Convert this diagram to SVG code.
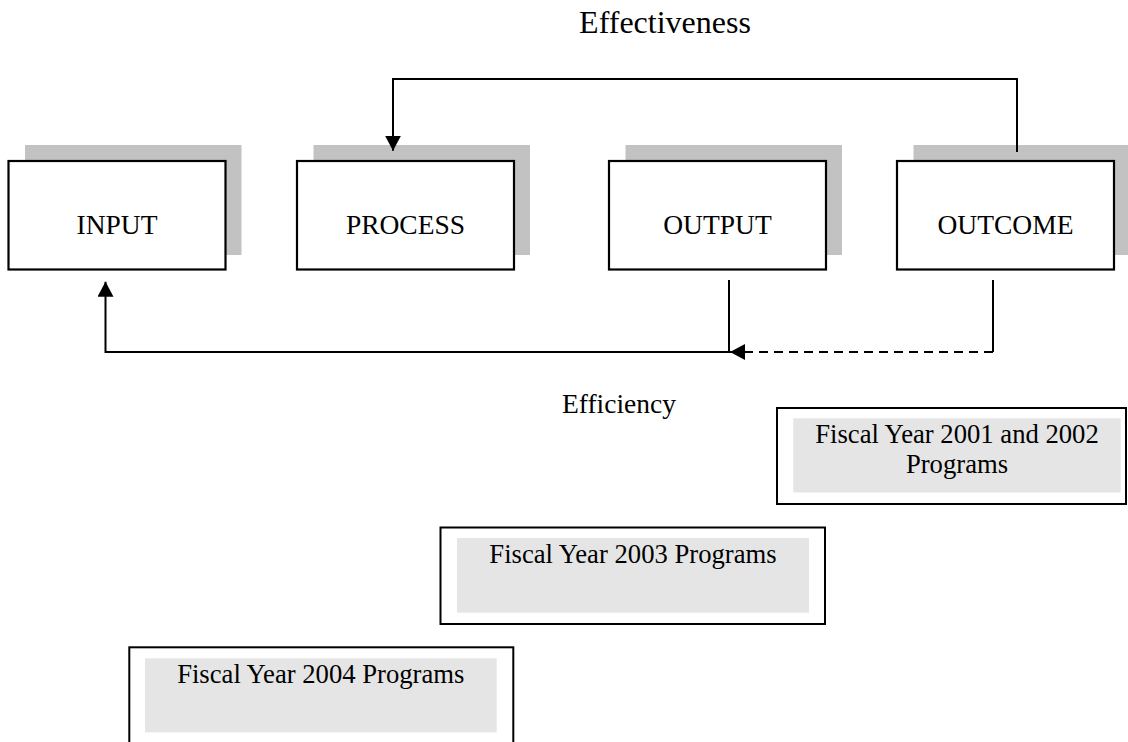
<svg xmlns="http://www.w3.org/2000/svg" width="1128" height="742" viewBox="0 0 1128 742">
  <style>
    text { font-family: "Liberation Serif", "Times New Roman", serif; fill: #000; }
    .lbl { font-size: 27.5px; text-anchor: middle; }
    .fy { font-size: 26.67px; text-anchor: middle; }
    .title { font-size: 32px; text-anchor: middle; }
    .shadow { fill: #c2c2c2; }
    .box { fill: #fff; stroke: #000; stroke-width: 2.2; }
    .frame { fill: #fff; stroke: #000; stroke-width: 2; }
    .band { fill: #e5e5e5; }
    .conn { fill: none; stroke: #000; stroke-width: 2; }
    .dash { stroke-dasharray: 9 6; }
  </style>
  <defs>
    <marker id="arrow" viewBox="0 0 15 16" refX="15" refY="8" markerWidth="15" markerHeight="16" markerUnits="userSpaceOnUse" orient="auto">
      <path d="M0,0 L15,8 L0,16 Z" fill="#000"/>
    </marker>
  </defs>
  <rect width="1128" height="742" fill="#fff"/>

  <text class="title" x="665" y="33">Effectiveness</text>
  <text class="lbl" x="619" y="413">Efficiency</text>

  <g id="input">
    <rect class="shadow" x="25" y="145" width="216.5" height="110"/>
    <rect class="box" x="8.5" y="161" width="217" height="108.5"/>
    <text class="lbl" x="117" y="233.5">INPUT</text>
  </g>
  <g id="process">
    <rect class="shadow" x="313.5" y="145" width="216.5" height="110"/>
    <rect class="box" x="297" y="161" width="217" height="108.5"/>
    <text class="lbl" x="405.5" y="233.5">PROCESS</text>
  </g>
  <g id="output">
    <rect class="shadow" x="625.5" y="145" width="216.5" height="110"/>
    <rect class="box" x="609" y="161" width="217" height="108.5"/>
    <text class="lbl" x="717.5" y="233.5">OUTPUT</text>
  </g>
  <g id="outcome">
    <rect class="shadow" x="913.5" y="145" width="216.5" height="110"/>
    <rect class="box" x="897" y="161" width="217" height="108.5"/>
    <text class="lbl" x="1005.5" y="233.5">OUTCOME</text>
  </g>

  <g id="connectors">
    <path class="conn" d="M1017,152 V79 H393 V150.7" marker-end="url(#arrow)"/>
    <path class="conn" d="M729,280 V352 H105.5 V281.7" marker-end="url(#arrow)"/>
    <path class="conn" d="M993,280 V352"/>
    <path class="conn dash" d="M993,352 H730" marker-end="url(#arrow)"/>
  </g>

  <g id="fy2001">
    <rect class="frame" x="777" y="408" width="349" height="96"/>
    <rect class="band" x="793.3" y="418.3" width="327.4" height="74.2"/>
    <text class="fy" x="957" y="442.7">Fiscal Year 2001 and 2002</text>
    <text class="fy" x="957" y="473">Programs</text>
  </g>
  <g id="fy2003">
    <rect class="frame" x="440.5" y="527.5" width="384.5" height="96.5"/>
    <rect class="band" x="457" y="538" width="352" height="74.7"/>
    <text class="fy" x="633" y="562.7">Fiscal Year 2003 Programs</text>
  </g>
  <g id="fy2004">
    <rect class="frame" x="129.3" y="647.3" width="384" height="100"/>
    <rect class="band" x="145" y="658.3" width="351.7" height="74"/>
    <text class="fy" x="320.8" y="683.3">Fiscal Year 2004 Programs</text>
  </g>
</svg>
